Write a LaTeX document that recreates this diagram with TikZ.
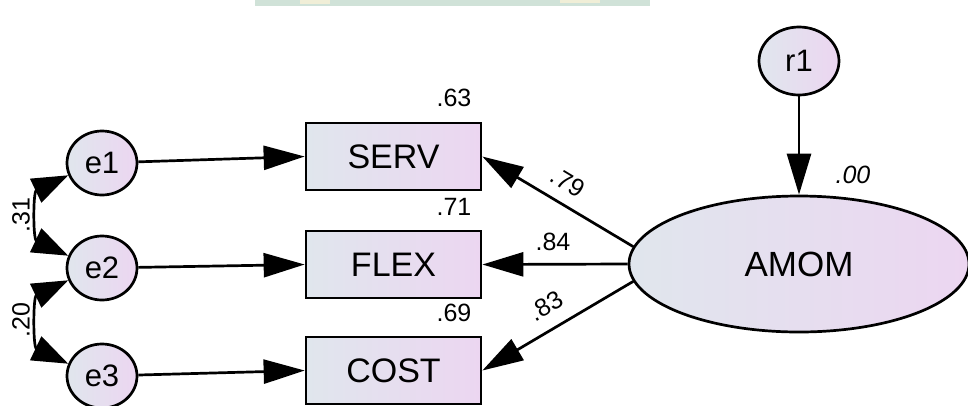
\documentclass[tikz,border=0pt]{standalone}
\usepackage{fontspec}
\setmainfont{Liberation Sans}
\usetikzlibrary{shapes.geometric,arrows.meta}

\definecolor{fillL}{RGB}{224,230,237}
\definecolor{fillR}{RGB}{236,214,241}
\definecolor{wmark}{RGB}{208,226,216}
\definecolor{wmarkY}{RGB}{240,238,215}

\tikzset{
  lw/.style={line width=2.7pt},
  latent/.style={ellipse, draw, lw, left color=fillL, right color=fillR,
    inner sep=0pt, font=\fontsize{31}{31}\selectfont},
  observed/.style={rectangle, draw, lw, left color=fillL, right color=fillR,
    inner sep=0pt, minimum width=175pt, minimum height=67pt,
    font=\fontsize{34}{34}\selectfont},
  path/.style={lw, -{Triangle[length=41pt,width=24pt]}},
  cov/.style={lw, {Triangle[length=36pt,width=26pt]}-{Triangle[length=36pt,width=26pt]}},
  coef/.style={font=\fontsize{25}{25}\selectfont, inner sep=0pt}
}

\begin{document}
\begin{tikzpicture}[x=1pt,y=-1pt]
  \useasboundingbox (0,0) rectangle (968,405);

  % faint watermark band along the top edge
  \fill[wmark] (255,0) rectangle (650,6);
  \fill[wmarkY] (300,0) rectangle (330,4);
  \fill[wmarkY] (560,0) rectangle (600,3);

  % error terms
  \node[latent, minimum width=70pt, minimum height=64pt] (e1) at (102,163) {e1};
  \node[latent, minimum width=70pt, minimum height=64pt] (e2) at (102,268) {e2};
  \node[latent, minimum width=70pt, minimum height=64pt] (e3) at (102,376) {e3};

  % indicators
  \node[observed] (SERV) at (393.5,156.5) {SERV};
  \node[observed] (FLEX) at (393.5,264.5) {FLEX};
  \node[observed] (COST) at (393.5,370.5) {COST};

  % latent factor and its residual
  \node[latent, minimum width=340pt, minimum height=136pt,
        font=\fontsize{35}{35}\selectfont] (AMOM) at (799,264) {AMOM};
  \node[latent, minimum width=80pt, minimum height=68pt] (r1) at (799,61) {r1};

  % error paths
  \draw[path] (e1) -- (SERV.west);
  \draw[path] (e2) -- (FLEX.west);
  \draw[path] (e3) -- (COST.west);

  % loadings
  \draw[path] (AMOM.174) -- (SERV.east);
  \draw[path] (AMOM.west) -- (FLEX.east);
  \draw[path] (AMOM.186) -- (COST.east);

  % residual path
  \draw[path] (r1) -- (AMOM);

  % error covariances
  \draw[cov] (e1.200) .. controls (33,192) and (33,239) .. (e2.160);
  \draw[cov] (e2.200) .. controls (33,297) and (33,347) .. (e3.160);

  % estimates
  \node[coef] (l63) at (454,98) {.63};
  \node[coef] (l71) at (454,207) {.71};
  \node[coef] (l69) at (454,313) {.69};
  \node[coef, rotate=-31] (l79) at (568,182) {.79};
  \node[coef] (l84) at (553,242) {.84};
  \node[coef, rotate=31] (l83) at (546,306) {.83};
  \node[coef, font=\fontsize{25}{25}\selectfont\itshape] (l00) at (853,175) {.00};
  \node[coef, rotate=90] (l31) at (21,215) {.31};
  \node[coef, rotate=90] (l20) at (21,320) {.20};
\end{tikzpicture}
\end{document}
